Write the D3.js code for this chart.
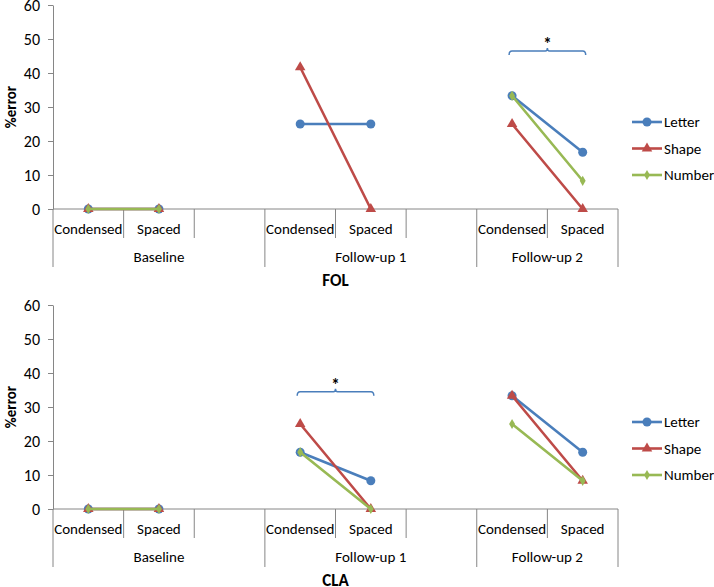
<!DOCTYPE html>
<html><head><meta charset="utf-8">
<script src="https://cdn.jsdelivr.net/npm/d3@7/dist/d3.min.js"></script>
<style>
body{margin:0;background:#fff;}
text{font-family:Carlito,Lato,"Liberation Sans",sans-serif;fill:#000;}
</style></head>
<body>
<svg id="chart" width="714" height="587"></svg>
<script>
// ---- data ----
const categories = ["B-C","B-S","B-E","F1-C","F1-S","F1-E","F2-C","F2-S"];
const subLabels  = ["Condensed","Spaced","","Condensed","Spaced","","Condensed","Spaced"];
const groups = [
  {name:"Baseline",   from:"B-C",  to:"B-E"},
  {name:"Follow-up 1",from:"F1-C", to:"F1-E"},
  {name:"Follow-up 2",from:"F2-C", to:"F2-S"}
];
const yTicks = [0,10,20,30,40,50,60];
const seriesNames = ["Letter","Shape","Number"];
const seriesColors = ["#4A7EBB","#BE4B48","#98B954"];
const seriesMarkers = ["circle","triangle","diamond"];

// FOL panel values (null = no point)
const folLetter = [0,0,null,25,25,null,33.3,16.7];
const folShape  = [0,0,null,41.7,0,null,25,0];
const folNumber = [0,0,null,null,null,null,33.3,8.3];
// CLA panel values
const claLetter = [0,0,null,16.7,8.3,null,33.3,16.7];
const claShape  = [0,0,null,25,0,null,33.3,8.3];
const claNumber = [0,0,null,16.7,0,null,25,8.3];

const panels = [
  {title:"FOL", series:[folLetter,folShape,folNumber], bracket:{from:"F2-C",to:"F2-S",value:46.5}},
  {title:"CLA", series:[claLetter,claShape,claNumber], bracket:{from:"F1-C",to:"F1-S",value:34.5}}
];

// ---- layout ----
const svg = d3.select("#chart");
const axisColor = "#868686";
const plotLeft = 53, plotRight = 618;
const panelTop0 = 5, panelH = 204, panelStep = 300;

const x = d3.scaleBand().domain(categories).range([plotLeft, plotRight]);
const cx = c => x(c) + x.bandwidth()/2;

function marker(g, type, color, px, py){
  if(type==="circle"){
    g.append("circle").attr("cx",px).attr("cy",py).attr("r",4.5).attr("fill",color);
  } else if(type==="triangle"){
    g.append("path").attr("d",d3.symbol(d3.symbolTriangle,48)()).attr("transform",`translate(${px},${py})`).attr("fill",color);
  } else {
    g.append("path").attr("d",d3.symbol(d3.symbolDiamond,30)()).attr("transform",`translate(${px},${py})`).attr("fill",color);
  }
}

panels.forEach((p, pi) => {
  const top = panelTop0 + pi*panelStep;
  const y = d3.scaleLinear().domain([0,60]).range([top+panelH, top]);
  const y0 = y(0);
  const g = svg.append("g");

  // y axis
  const ya = g.append("g").attr("transform",`translate(${plotLeft},0)`)
    .call(d3.axisLeft(y).tickValues(yTicks).tickSize(5).tickSizeOuter(0).tickPadding(8));
  ya.select(".domain").attr("stroke",axisColor);
  ya.selectAll(".tick line").attr("stroke",axisColor);
  ya.selectAll(".tick text").style("font-size","16px").attr("fill","#000");

  // y title
  g.append("text").attr("transform",`translate(11,${top+panelH/2}) rotate(-90)`)
    .attr("text-anchor","middle").attr("dominant-baseline","central")
    .style("font-size","15px").style("font-weight","bold").text("%error");

  // x axis line
  g.append("line").attr("x1",plotLeft).attr("x2",plotRight).attr("y1",y0).attr("y2",y0).attr("stroke",axisColor);
  // separators
  const groupEdges = groups.map(gr => x(gr.from)).concat([plotRight]);
  const edges = categories.map(c => x(c)).concat([plotRight]);
  edges.forEach(e => {
    const isGroup = groupEdges.some(v => Math.abs(v-e)<0.5);
    g.append("line").attr("x1",e).attr("x2",e).attr("y1",y0).attr("y2", y0 + (isGroup?58:29))
      .attr("stroke",axisColor);
  });
  // sub labels
  categories.forEach((c,i) => {
    if(!subLabels[i]) return;
    g.append("text").attr("x",cx(c)).attr("y",y0+25).attr("text-anchor","middle")
      .style("font-size","15px").text(subLabels[i]);
  });
  // group labels
  groups.forEach(gr => {
    const gx = (x(gr.from) + x(gr.to) + x.bandwidth())/2;
    g.append("text").attr("x",gx).attr("y",y0+53).attr("text-anchor","middle")
      .style("font-size","15px").text(gr.name);
  });
  // panel title
  g.append("text").attr("x",(plotLeft+plotRight)/2).attr("y",y0+77).attr("text-anchor","middle")
    .style("font-size","17px").style("font-weight","bold").text(p.title);

  // series
  const line = d3.line().defined(d => d.v!==null).x(d => cx(d.c)).y(d => y(d.v));
  p.series.forEach((vals, si) => {
    const pts = categories.map((c,i)=>({c, v: vals[i]}));
    g.append("path").attr("d", line(pts)).attr("fill","none")
      .attr("stroke",seriesColors[si]).attr("stroke-width",2.6);
    const mg = g.append("g");
    pts.filter(d=>d.v!==null).forEach(d => marker(mg, seriesMarkers[si], seriesColors[si], cx(d.c), y(d.v)));
  });

  // bracket
  const b = p.bracket;
  const bx1 = cx(b.from)-3, bx2 = cx(b.to)+3, by = y(b.value), bm = (bx1+bx2)/2;
  g.append("path").attr("fill","none").attr("stroke","#4A7EBB").attr("stroke-width",1.5)
    .attr("d",`M${bx1},${by+4} Q${bx1},${by} ${bx1+3},${by} L${bm-2},${by} Q${bm},${by} ${bm},${by-3} Q${bm},${by} ${bm+2},${by} L${bx2-3},${by} Q${bx2},${by} ${bx2},${by+4}`);
  g.append("text").attr("x",bm).attr("y",by-1).attr("text-anchor","middle")
    .style("font-size","17px").style("font-weight","bold").text("*");

  // legend
  const ly0 = top + 117;
  seriesNames.forEach((n, si) => {
    const ly = ly0 + si*26.5;
    g.append("line").attr("x1",632).attr("x2",662).attr("y1",ly).attr("y2",ly)
      .attr("stroke",seriesColors[si]).attr("stroke-width",2.6);
    marker(g, seriesMarkers[si], seriesColors[si], 647, ly);
    g.append("text").attr("x",664).attr("y",ly).attr("dominant-baseline","central")
      .style("font-size","15px").text(n);
  });
});
</script>
</body></html>
